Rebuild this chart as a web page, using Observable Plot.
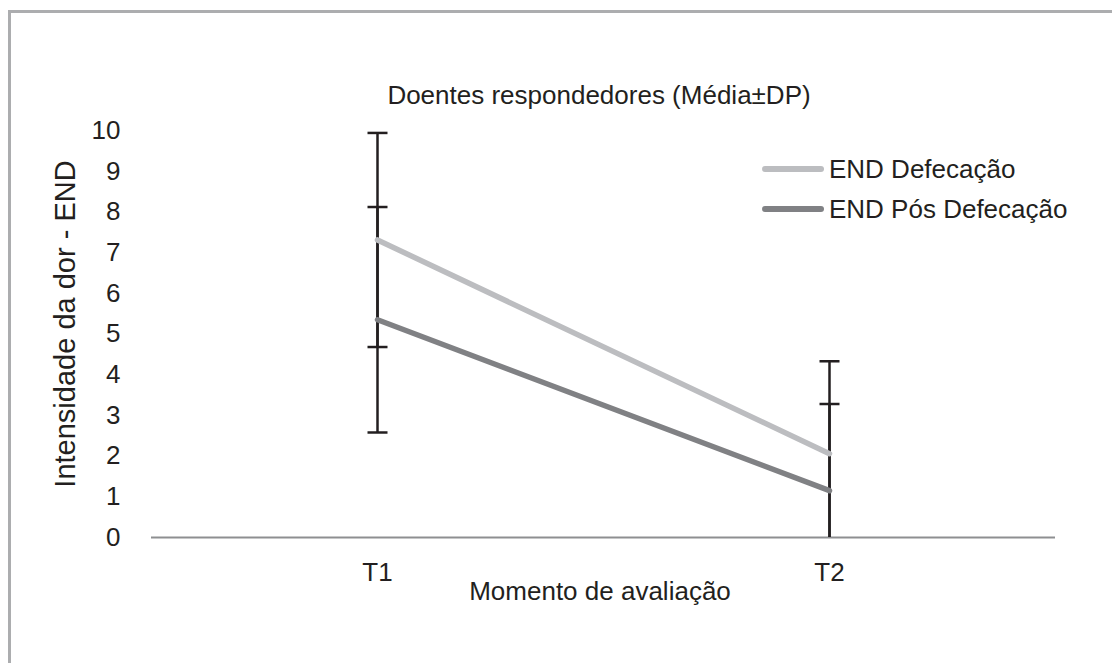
<!DOCTYPE html>
<html>
<head>
<meta charset="utf-8">
<script src="https://cdn.jsdelivr.net/npm/d3@7"></script>
<script src="https://cdn.jsdelivr.net/npm/@observablehq/plot@0.6"></script>
<style>
  body { margin: 0; background: #fff; }
  #wrap { position: relative; width: 1112px; height: 663px; overflow: hidden; background: #fff;
          font-family: "Liberation Sans", Arial, Helvetica, sans-serif; color: #231f20; }
  #frame { position: absolute; left: 8px; top: 10px; width: 1200px; height: 800px;
           border-top: 3px solid #acadaf; border-left: 3px solid #acadaf; }
  #chart { position: absolute; left: 0; top: 0; }
  .leg { position: absolute; left: 762px; height: 26px; display: flex; align-items: center;
         font-size: 26px; line-height: 26px; white-space: nowrap; }
  .sw { width: 62px; height: 5.5px; border-radius: 3px; margin-right: 5px; }
</style>
</head>
<body>
<div id="wrap">
  <div id="frame"></div>
  <div id="chart"></div>
  <div id="legend"></div>
</div>
<script>
// ---- data ----
const categories = ["T1", "T2"];
const seriesNames = ["END Defecação", "END Pós Defecação"];
const seriesColors = ["#bcbdc0", "#808184"];
const meanDef = [7.31, 2.06];
const sdDef = [2.63, 2.27];
const meanPos = [5.35, 1.15];
const sdPos = [2.77, 2.13];
const yTicks = [0, 1, 2, 3, 4, 5, 6, 7, 8, 9, 10];
const titleText = "Doentes respondedores (Média±DP)";
const xLabel = "Momento de avaliação";
const yLabel = "Intensidade da dor - END";

// ---- derived tables ----
const means = [meanDef, meanPos];
const sds = [sdDef, sdPos];
const lineData = [];
const errData = [];
const capData = [];
seriesNames.forEach((s, si) => {
  categories.forEach((c, ci) => {
    const m = means[si][ci], sd = sds[si][ci];
    lineData.push({cat: c, series: s, value: m});
    const lo = Math.max(0, m - sd), hi = Math.min(10, m + sd);
    errData.push({cat: c, series: s, lo, hi});
    if (m + sd <= 10) capData.push({cat: c, v: m + sd});
    if (m - sd >= 0) capData.push({cat: c, v: m - sd});
  });
});

// horizontal error-bar cap drawn as a custom symbol
const capSymbol = {
  draw(context, size) {
    const r = Math.sqrt(size / Math.PI);
    context.moveTo(-r, 0);
    context.lineTo(r, 0);
  }
};

const ink = "#231f20";
const chart = Plot.plot({
  width: 1112,
  height: 663,
  marginLeft: 151,
  marginRight: 57,
  marginTop: 130,
  marginBottom: 126,
  style: {fontFamily: "'Liberation Sans', Arial, Helvetica, sans-serif", fontSize: "26px", color: ink, background: "transparent", overflow: "visible"},
  x: {type: "point", domain: categories, padding: 0.5, label: null, tickSize: 0, tickPadding: 25},
  y: {domain: [0, 10], ticks: yTicks, label: null, tickSize: 0, tickPadding: 31},
  color: {domain: seriesNames, range: seriesColors},
  marks: [
    Plot.ruleY([0], {stroke: "#8e8f91", strokeWidth: 2}),
    Plot.ruleX(errData, {x: "cat", y1: "lo", y2: "hi", stroke: ink, strokeWidth: 2.5}),
    Plot.dot(capData, {x: "cat", y: "v", r: 10, symbol: capSymbol, fill: "none", stroke: ink, strokeWidth: 2.5}),
    Plot.line(lineData, {x: "cat", y: "value", z: "series", stroke: "series", strokeWidth: 5.5, strokeLinecap: "round", strokeLinejoin: "round"}),
    Plot.text([titleText], {frameAnchor: "top", text: d => d, fontSize: 26, fill: ink, dx: -4.5, dy: -35, lineAnchor: "middle"}),
    Plot.text([xLabel], {frameAnchor: "bottom", text: d => d, fontSize: 26, fill: ink, dx: -3.5, dy: 54, lineAnchor: "middle"}),
    Plot.text([yLabel], {frameAnchor: "left", text: d => d, fontSize: 29, fill: ink, rotate: -90, textAnchor: "middle", dx: -86, dy: -10, lineAnchor: "middle"})
  ]
});
document.getElementById("chart").appendChild(chart);

// ---- legend ----
const legend = document.getElementById("legend");
const legendTops = [156, 196];
seriesNames.forEach((s, i) => {
  const row = document.createElement("div");
  row.className = "leg";
  row.style.top = legendTops[i] + "px";
  const sw = document.createElement("div");
  sw.className = "sw";
  sw.style.background = seriesColors[i];
  const tx = document.createElement("span");
  tx.textContent = s;
  row.appendChild(sw);
  row.appendChild(tx);
  legend.appendChild(row);
});
</script>
</body>
</html>
